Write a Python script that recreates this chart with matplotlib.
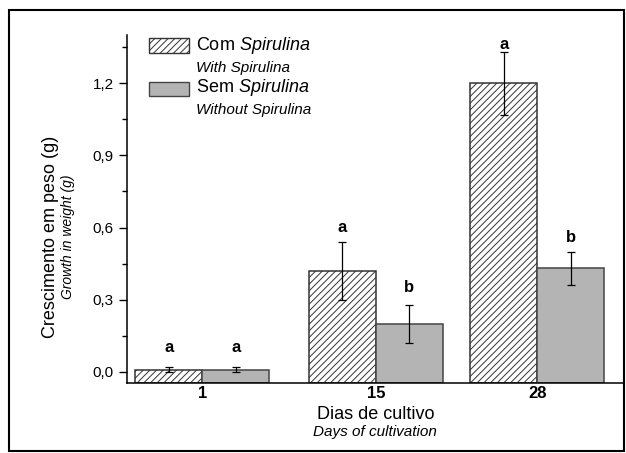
import matplotlib
matplotlib.use('Agg')
import matplotlib.pyplot as plt
from matplotlib.patches import Rectangle
from matplotlib.ticker import MultipleLocator

plt.rcParams['font.family'] = ['Liberation Sans', 'DejaVu Sans']
plt.rcParams['mathtext.fontset'] = 'custom'
plt.rcParams['mathtext.rm'] = 'Liberation Sans'
plt.rcParams['mathtext.it'] = 'Liberation Sans:italic'
plt.rcParams['hatch.linewidth'] = 0.7

days = [1, 15, 28]
com = [0.01, 0.42, 1.20]
com_err = [0.01, 0.12, 0.13]
sem = [0.01, 0.20, 0.43]
sem_err = [0.01, 0.08, 0.07]
com_letters = ['a', 'a', 'a']
com_letter_y = [0.10, 0.60, 1.36]
sem_letters = ['a', 'b', 'b']
sem_letter_y = [0.10, 0.35, 0.56]
yticks = [0.0, 0.3, 0.6, 0.9, 1.2]
ytick_labels = ['0,0', '0,3', '0,6', '0,9', '1,2']

ymin, ymax = -0.046, 1.40
w = 5.4
fig = plt.figure(figsize=(6.26, 4.53), dpi=100)
ax = fig.add_axes([0.203, 0.1545, 0.794, 0.768])

xc = [d - w / 2 for d in days]
xs = [d + w / 2 for d in days]
# bars start at the bottom of the axis, as in the original
ax.bar(xc, [v - ymin for v in com], w, bottom=ymin, color='white', edgecolor='#333333',
       hatch='/////', linewidth=1.1, zorder=2)
ax.bar(xs, [v - ymin for v in sem], w, bottom=ymin, color='#b4b4b4', edgecolor='#444444',
       linewidth=1.1, zorder=2)
ax.errorbar(xc, com, yerr=com_err, fmt='none', ecolor='black', elinewidth=0.9, capsize=3, capthick=0.9, zorder=3)
ax.errorbar(xs, sem, yerr=sem_err, fmt='none', ecolor='black', elinewidth=0.9, capsize=3, capthick=0.9, zorder=3)

for x, y, l in zip(xc, com_letter_y, com_letters):
    ax.text(x, y, l, ha='center', va='center', fontsize=12, fontweight='bold')
for x, y, l in zip(xs, sem_letter_y, sem_letters):
    ax.text(x, y, l, ha='center', va='center', fontsize=12, fontweight='bold')

ax.set_xlim(-5.05, 35)
ax.set_ylim(ymin, ymax)
ax.set_xticks(days)
ax.set_xticklabels([str(d) for d in days], fontsize=12, fontweight='bold')
ax.tick_params(axis='x', length=0, pad=2)
ax.set_yticks(yticks)
ax.set_yticklabels(ytick_labels, fontsize=11)
ax.yaxis.set_minor_locator(MultipleLocator(0.15))
ax.tick_params(axis='y', which='major', length=6, width=1, direction='out')
ax.tick_params(axis='y', which='minor', length=3.5, width=1, direction='out')
ax.spines['top'].set_visible(False)
ax.spines['right'].set_visible(False)
ax.spines['left'].set_linewidth(1.1)
ax.spines['bottom'].set_linewidth(1.1)

# legend
ax.add_patch(Rectangle((0.044, 0.948), 0.080, 0.043, transform=ax.transAxes, facecolor='white',
                       edgecolor='#333333', hatch='/////', linewidth=1, clip_on=False))
ax.add_patch(Rectangle((0.044, 0.825), 0.080, 0.040, transform=ax.transAxes, facecolor='#b4b4b4',
                       edgecolor='#444444', linewidth=1, clip_on=False))
ax.text(0.139, 0.971, r'Com $\it{Spirulina}$', transform=ax.transAxes, fontsize=13, va='center')
ax.text(0.139, 0.906, 'With Spirulina', transform=ax.transAxes, fontsize=11, style='italic', va='center')
ax.text(0.139, 0.848, r'Sem $\it{Spirulina}$', transform=ax.transAxes, fontsize=13, va='center')
ax.text(0.139, 0.786, 'Without Spirulina', transform=ax.transAxes, fontsize=11, style='italic', va='center')

# axis titles
fig.text(0.080, 0.477, 'Crescimento em peso (g)', rotation=90, fontsize=13, ha='center', va='center')
fig.text(0.109, 0.477, 'Growth in weight (g)', rotation=90, fontsize=10, style='italic', ha='center', va='center')
fig.text(0.600, 0.086, 'Dias de cultivo', fontsize=13, ha='center', va='center')
fig.text(0.599, 0.046, 'Days of cultivation', fontsize=11, style='italic', ha='center', va='center')

# outer frame
fig.add_artist(Rectangle((0.0144, 0.004), 0.983, 0.974, transform=fig.transFigure, fill=False,
                         edgecolor='black', linewidth=1.5))

fig.savefig('out.png', dpi=100)
